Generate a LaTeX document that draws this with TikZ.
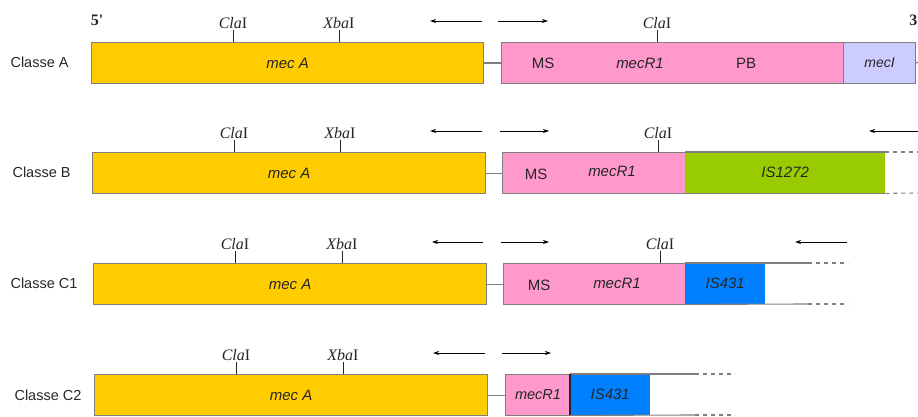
\documentclass[tikz,border=0pt]{standalone}
\usepackage{fontspec}
\setmainfont{Liberation Sans}
\newfontfamily\tms{Liberation Serif}
\usetikzlibrary{arrows.meta}
\definecolor{cmecA}{HTML}{FFCC00}
\definecolor{cpink}{HTML}{FF99CC}
\definecolor{cgreen}{HTML}{99CC00}
\definecolor{cblue}{HTML}{0080FF}
\definecolor{clav}{HTML}{CCCCFF}
\definecolor{cedge}{HTML}{7F7F7F}
\definecolor{ctext}{HTML}{262626}
\begin{document}
\begin{tikzpicture}[x=1pt,y=-1pt,
  seg/.style={draw=cedge, line width=1.1pt, inner sep=0pt, minimum height=41pt, anchor=north west, text=ctext, font=\fontsize{15}{15}\selectfont\itshape},
  fillseg/.style={inner sep=0pt, minimum height=41pt, anchor=north west, text=ctext, font=\fontsize{15}{15}\selectfont\itshape},
  edge/.style={draw=cedge, line width=1.1pt},
  dashedge/.style={draw=cedge, line width=1.1pt, dash pattern=on 4pt off 4pt},
  lbl/.style={text=ctext, font=\fontsize{14.5}{14.5}\selectfont, anchor=west},
  intxt/.style={text=ctext, font=\fontsize{15}{15}\selectfont},
  site/.style={text=ctext, font=\tms\fontsize{16}{16}\selectfont, anchor=south, inner sep=1pt},
  tick/.style={draw=ctext, line width=0.8pt},
  arr/.style={draw=black, line width=0.8pt, -{Stealth[length=6pt,width=4pt]}}]
\useasboundingbox (0,0) rectangle (918,417);

% ---------------- Classe A ----------------
\node[lbl] (lA) at (7,62) {Classe A};
\node[site] (p5) at (97,27) {\textbf{5'}};
\node[site, anchor=south east, inner sep=0pt] (p3) at (917.5,26) {\textbf{3}};
\node[seg, fill=cmecA, minimum width=392pt] (aA) at (91,42) {mec A};
\node[seg, fill=cpink, minimum width=342pt] (pA) at (501,42) {};
\node[seg, fill=clav, minimum width=72pt, font=\fontsize{14}{14}\selectfont\itshape] (iA) at (843,42) {mecI};
\node[intxt] (msA) at (543,63) {MS};
\node[intxt, font=\fontsize{15}{15}\selectfont\itshape] (rA) at (640,63) {mecR1};
\node[intxt] (pbA) at (746,63) {PB};
\coordinate (endA) at (918,62);
\draw[edge] (aA.east) -- (pA.west);
\draw[edge] (iA.east) -- (endA);
\draw[tick] (233,42) -- (233,30) node[site] (c1A) {\textit{Cla}I};
\draw[tick] (339,42) -- (339,30) node[site] (x1A) {\textit{Xba}I};
\draw[tick] (657,42) -- (657,30) node[site] (c2A) {\textit{Cla}I};
\coordinate (a1s) at (482,21); \coordinate (a1e) at (430,21);
\coordinate (a2s) at (498,21); \coordinate (a2e) at (548,21);
\draw[arr] (a1s) -- (a1e);
\draw[arr] (a2s) -- (a2e);

% ---------------- Classe B ----------------
\node[lbl] (lB) at (9,172) {Classe B};
\node[seg, fill=cmecA, minimum width=393pt] (aB) at (92,152) {mec A};
\node[seg, fill=cpink, minimum width=183pt] (pB) at (502,152) {};
\node[fillseg, fill=cgreen, minimum width=200pt] (gB) at (685,152) {IS1272};
\node[intxt] (msB) at (536,174) {MS};
\node[intxt, font=\fontsize{15}{15}\selectfont\itshape] (rB) at (612,171) {mecR1};
\coordinate (tBe) at (918,152); \coordinate (bBe) at (918,193);
\draw[edge] (aB.east) -- (pB.west);
\draw[edge] (gB.north west) -- (gB.north east);
\draw[edge] (gB.south west) -- (gB.south east);
\draw[dashedge] (gB.north east) -- (tBe);
\draw[dashedge] (gB.south east) -- (bBe);
\draw[tick] (234,152) -- (234,140) node[site] (c1B) {\textit{Cla}I};
\draw[tick] (340,152) -- (340,140) node[site] (x1B) {\textit{Xba}I};
\draw[tick] (658,152) -- (658,140) node[site] (c2B) {\textit{Cla}I};
\coordinate (b1s) at (482,131); \coordinate (b1e) at (430,131);
\coordinate (b2s) at (500,131); \coordinate (b2e) at (549,131);
\coordinate (b3s) at (918,131); \coordinate (b3e) at (869,131);
\draw[arr] (b1s) -- (b1e);
\draw[arr] (b2s) -- (b2e);
\draw[arr] (b3s) -- (b3e);

% ---------------- Classe C1 ----------------
\node[lbl] (lC1) at (7,283) {Classe C1};
\node[seg, fill=cmecA, minimum width=393pt] (aC) at (93,263) {mec A};
\node[seg, fill=cpink, minimum width=182pt] (pC) at (503,263) {};
\node[fillseg, fill=cblue, minimum width=80pt] (bC) at (685,263) {IS431};
\node[intxt] (msC) at (539,285) {MS};
\node[intxt, font=\fontsize{15}{15}\selectfont\itshape] (rC) at (617,283) {mecR1};
\coordinate (tCm) at (808,263); \coordinate (bCm) at (808,304);
\coordinate (tCe) at (848,263); \coordinate (bCe) at (848,304);
\draw[edge] (aC.east) -- (pC.west);
\draw[edge] (bC.north west) -- (tCm);
\draw[edge] (bC.south west) -- (bCm);
\draw[dashedge] (tCm) -- (tCe);
\draw[dashedge] (bCm) -- (bCe);
\draw[tick] (235,263) -- (235,251) node[site] (c1C) {\textit{Cla}I};
\draw[tick] (342,263) -- (342,251) node[site] (x1C) {\textit{Xba}I};
\draw[tick] (660,263) -- (660,251) node[site] (c2C) {\textit{Cla}I};
\coordinate (c1s) at (483,242); \coordinate (c1e) at (432,242);
\coordinate (c2s) at (501,242); \coordinate (c2e) at (549,242);
\coordinate (c3s) at (847,242); \coordinate (c3e) at (795,242);
\draw[arr] (c1s) -- (c1e);
\draw[arr] (c2s) -- (c2e);
\draw[arr] (c3s) -- (c3e);

% ---------------- Classe C2 ----------------
\node[lbl] (lC2) at (11,395) {Classe C2};
\node[seg, fill=cmecA, minimum width=393pt] (aD) at (94,374) {mec A};
\node[seg, fill=cpink, minimum width=65pt, font=\fontsize{14.5}{14.5}\selectfont\itshape] (pD) at (505,374) {mecR1};
\node[fillseg, fill=cblue, minimum width=80pt] (bD) at (570,374) {IS431};
\coordinate (tDm) at (695,374); \coordinate (bDm) at (695,415);
\coordinate (tDe) at (735,374); \coordinate (bDe) at (735,415);
\draw[edge] (aD.east) -- (pD.west);
\draw[edge] (bD.north west) -- (tDm);
\draw[edge] (bD.south west) -- (bDm);
\draw[dashedge] (tDm) -- (tDe);
\draw[dashedge] (bDm) -- (bDe);
\draw[draw=ctext, line width=1.1pt] (bD.north west) -- (bD.south west);
\draw[tick] (236,374) -- (236,362) node[site] (c1D) {\textit{Cla}I};
\draw[tick] (343,374) -- (343,362) node[site] (x1D) {\textit{Xba}I};
\coordinate (d1s) at (485,353); \coordinate (d1e) at (433,353);
\coordinate (d2s) at (502,353); \coordinate (d2e) at (551,353);
\draw[arr] (d1s) -- (d1e);
\draw[arr] (d2s) -- (d2e);
\end{tikzpicture}
\end{document}
